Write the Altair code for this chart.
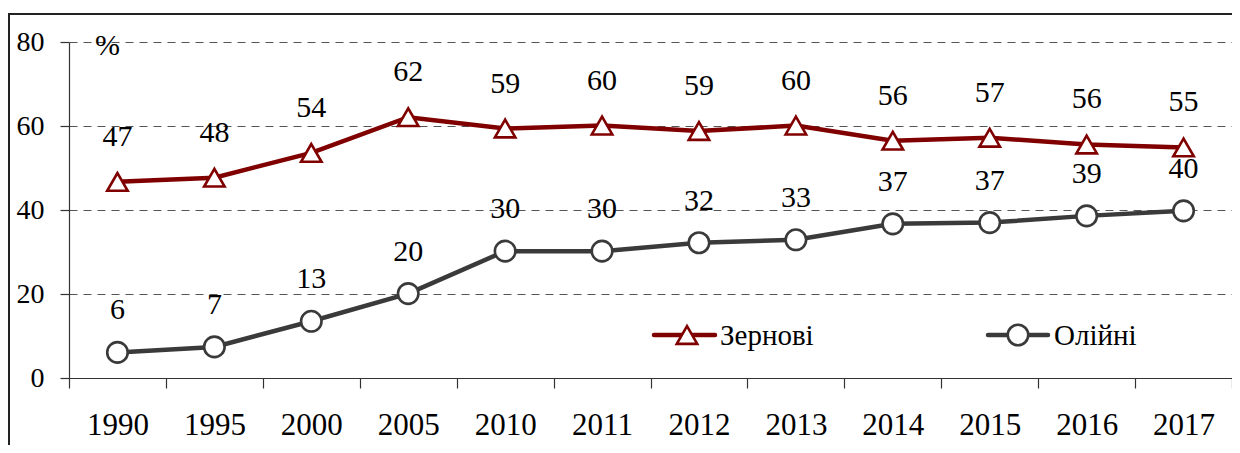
import altair as alt
import pandas as pd

years = ["1990", "1995", "2000", "2005", "2010", "2011", "2012", "2013", "2014", "2015", "2016", "2017"]
zernovi = [46.7, 47.7, 53.6, 62.1, 59.4, 60.1, 58.8, 60.1, 56.5, 57.2, 55.6, 54.9]
zernovi_labels = [47, 48, 54, 62, 59, 60, 59, 60, 56, 57, 56, 55]
oliyni = [6.1, 7.4, 13.5, 20.1, 30.2, 30.2, 32.2, 32.9, 36.7, 37.0, 38.6, 39.8]
oliyni_labels = [6, 7, 13, 20, 30, 30, 32, 33, 37, 37, 39, 40]
series_names = ["Зернові", "Олійні"]
series_colors = ["#800000", "#3a3a3a"]
series_shapes = ["triangle-up", "circle"]

rows = []
for i, y in enumerate(years):
    rows.append({"year": y, "series": series_names[0], "value": zernovi[i], "label": str(zernovi_labels[i])})
    rows.append({"year": y, "series": series_names[1], "value": oliyni[i], "label": str(oliyni_labels[i])})
df = pd.DataFrame(rows)

FONT = "Liberation Serif"

x_enc = alt.X(
    "year:N", sort=years, bandPosition=0.5,
    scale=alt.Scale(type="band", paddingInner=0, paddingOuter=0),
    axis=alt.Axis(title=None, labelAngle=0, tickBand="extent", tickSize=10,
                  labelFont=FONT, labelFontSize=31, labelColor="#000",
                  labelPadding=22, domainColor="#333", tickColor="#333",
                  domainWidth=1.2, tickWidth=1.2, grid=False),
)
y_enc = alt.Y(
    "value:Q", scale=alt.Scale(domain=[0, 80], nice=False),
    axis=alt.Axis(title=None, values=[0, 20, 40, 60, 80], tickSize=9,
                  labelFont=FONT, labelFontSize=28, labelColor="#000",
                  labelPadding=16, domainColor="#333", tickColor="#333",
                  domainWidth=1.2, tickWidth=1.2,
                  grid=True, gridDash=[8, 6], gridColor="#555", gridWidth=1),
)
color_enc = alt.Color("series:N", scale=alt.Scale(domain=series_names, range=series_colors), legend=None)
shape_enc = alt.Shape("series:N", scale=alt.Scale(domain=series_names, range=series_shapes), legend=None)

base = alt.Chart(df)

lines = base.mark_line(strokeWidth=4.5).encode(x=x_enc, y=y_enc, color=color_enc, detail="series:N")
points = base.mark_point(filled=True, fill="white", size=420, strokeWidth=2.6, opacity=1).encode(
    x=x_enc, y=y_enc, stroke=alt.Stroke("series:N", scale=alt.Scale(domain=series_names, range=series_colors), legend=None),
    shape=shape_enc)

text_z = base.transform_filter(alt.datum.series == series_names[0]).mark_text(
    font=FONT, fontSize=30, color="#000", dy=-45, baseline="middle").encode(x=x_enc, y=y_enc, text="label:N")
text_o = base.transform_filter(alt.datum.series == series_names[1]).mark_text(
    font=FONT, fontSize=30, color="#000", dy=-42, baseline="middle").encode(x=x_enc, y=y_enc, text="label:N")

# "%" unit label
pct = alt.Chart(pd.DataFrame({"t": ["%"]})).mark_text(
    font=FONT, fontSize=30, color="#000", align="left", baseline="middle").encode(
    x=alt.value(26), y=alt.value(4), text="t:N")

# custom legend
leg = []
leg.append(alt.Chart(pd.DataFrame({"a": [0]})).mark_rule(color=series_colors[0], strokeWidth=4.5, strokeCap="round").encode(
    x=alt.value(585), x2=alt.value(646), y=alt.value(293)))
leg.append(alt.Chart(pd.DataFrame({"a": [0]})).mark_point(shape="triangle-up", filled=True, fill="white", stroke=series_colors[0],
    size=420, strokeWidth=2.6, opacity=1).encode(x=alt.value(618), y=alt.value(293)))
leg.append(alt.Chart(pd.DataFrame({"t": [series_names[0]]})).mark_text(font=FONT, fontSize=29, color="#000", align="left",
    baseline="middle").encode(x=alt.value(651), y=alt.value(294), text="t:N"))
leg.append(alt.Chart(pd.DataFrame({"a": [0]})).mark_rule(color=series_colors[1], strokeWidth=4.5, strokeCap="round").encode(
    x=alt.value(919), x2=alt.value(979), y=alt.value(293)))
leg.append(alt.Chart(pd.DataFrame({"a": [0]})).mark_point(shape="circle", filled=True, fill="white", stroke=series_colors[1],
    size=420, strokeWidth=2.6, opacity=1).encode(x=alt.value(949), y=alt.value(293)))
leg.append(alt.Chart(pd.DataFrame({"t": [series_names[1]]})).mark_text(font=FONT, fontSize=29, color="#000", align="left",
    baseline="middle").encode(x=alt.value(985), y=alt.value(294), text="t:N"))

frame = alt.Chart(pd.DataFrame({"a": [0]})).mark_rect(fillOpacity=0, stroke="#222", strokeWidth=2).encode(
    x=alt.value(-60), x2=alt.value(1300), y=alt.value(-28), y2=alt.value(600))

chart = alt.layer(frame, lines, points, text_z, text_o, pct, *leg).properties(
    width=1163, height=336,
    autosize=alt.AutoSizeParams(type="none"),
    padding={"left": 61, "top": 34, "right": 0, "bottom": 67},
    background="white",
).configure_view(stroke="transparent")

chart.save("out.html", embed_options={"renderer": "svg", "actions": False})
